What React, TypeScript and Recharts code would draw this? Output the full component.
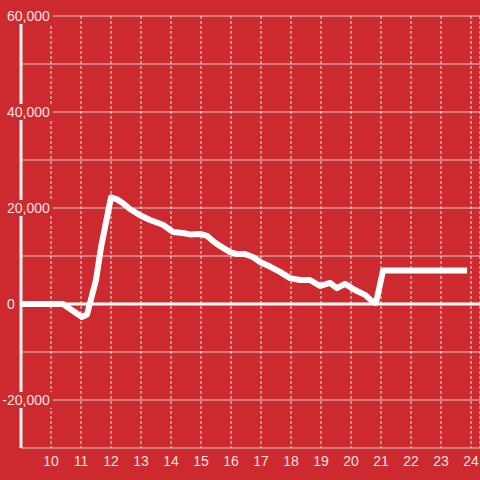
import React from 'react';
import { LineChart, Line, XAxis, YAxis, CartesianGrid, ReferenceLine } from 'recharts';

const BG = '#cc2a2f';
const LABEL = '#f3e1e1';

// hour of day, value
const hours = [
  9.0, 10.4, 11.03, 11.2, 11.5, 11.67, 12.0, 12.2, 12.4, 12.63, 12.97, 13.3, 13.73, 14.07,
  14.4, 14.63, 14.97, 15.2, 15.4, 15.63, 15.97, 16.2, 16.47, 16.73, 16.97, 17.3, 17.63,
  17.97, 18.3, 18.63, 18.97, 19.3, 19.53, 19.8, 20.13, 20.47, 20.7, 20.83, 21.07, 23.87,
];
const values = [
  0, 0, -2700, -2200, 5000, 11900, 22200, 21800, 21000, 19800, 18500, 17500, 16500, 15000,
  14800, 14500, 14600, 14200, 13100, 12100, 10800, 10400, 10400, 9800, 8750, 7800, 6700,
  5400, 5000, 5000, 3750, 4400, 3300, 4200, 2900, 1900, 600, 200, 7000, 7000,
];

const xTicks = [10, 11, 12, 13, 14, 15, 16, 17, 18, 19, 20, 21, 22, 23, 24];
const yTicks = [-30000, -20000, -10000, 0, 10000, 20000, 30000, 40000, 50000, 60000];
const yLabelled = [-20000, 0, 20000, 40000, 60000];

const data = hours.map((h, i) => ({ h, v: values[i] }));

const renderYTick = (props: any) => {
  const { y, payload } = props;
  const v = payload.value;
  if (!yLabelled.includes(v)) return <g />;
  const label = v.toLocaleString('en-US');
  const digits = label.replace(/[^0-9]/g, '').length;
  const commas = (label.match(/,/g) || []).length;
  const left = v < 0 ? 2.3 : 7;
  const w = digits * 7.8 + commas * 3.9 + (v < 0 ? 4.7 : 0);
  return (
    <g>
      <rect x={0} y={y - 8} width={left + w + 3} height={16} fill={BG} />
      <text x={left} y={y} dy={5} textAnchor="start" fill={LABEL} fontSize={14}>
        {label}
      </text>
    </g>
  );
};

export default function App() {
  return (
    <div style={{ width: 480, height: 480, background: BG, fontFamily: '"Liberation Sans", Arial, sans-serif' }}>
      <style>{'body{margin:0}'}</style>
      <LineChart width={480} height={480} data={data} margin={{ top: 16, right: 0, bottom: 0, left: 20 }}>
        <CartesianGrid vertical={false} stroke="#cfcfcf" strokeWidth={1} />
        <CartesianGrid horizontal={false} stroke="#e6e6e6" strokeDasharray="3 2" strokeWidth={1} />
        <XAxis
          dataKey="h"
          type="number"
          domain={[9, 24.3]}
          ticks={xTicks}
          height={32}
          axisLine={false}
          tickLine={false}
          tickSize={0}
          tickMargin={8}
          tick={{ fill: LABEL, fontSize: 14 }}
          allowDataOverflow
        />
        <YAxis
          type="number"
          domain={[-30000, 60000]}
          ticks={yTicks}
          width={1}
          interval={0}
          axisLine={{ stroke: '#f5f5f5', strokeWidth: 3 }}
          tickLine={false}
          tick={renderYTick}
          allowDataOverflow
        />
        <ReferenceLine y={0} stroke="#ffffff" strokeWidth={3} />
        <Line
          dataKey="v"
          stroke="#ffffff"
          strokeWidth={6}
          dot={false}
          type="linear"
          strokeLinejoin="round"
          isAnimationActive={false}
        />
      </LineChart>
    </div>
  );
}
